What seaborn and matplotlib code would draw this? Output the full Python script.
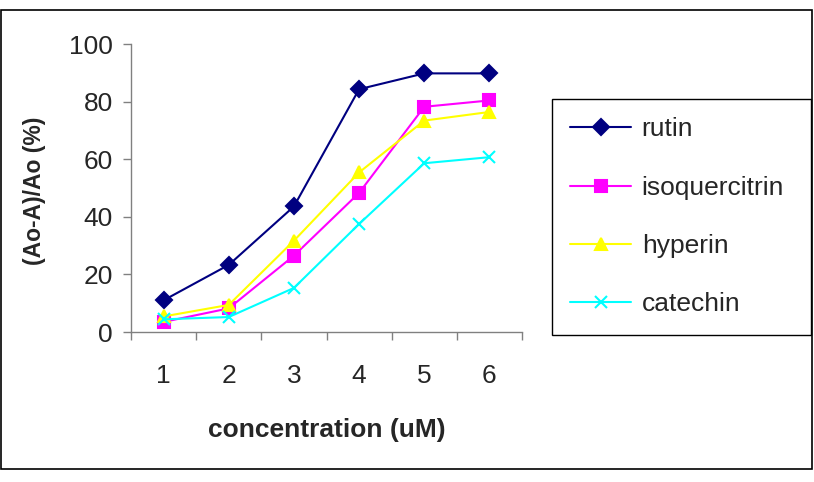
import numpy as np
import pandas as pd
import matplotlib
matplotlib.use('Agg')
import matplotlib.pyplot as plt
from matplotlib.patches import Rectangle
import seaborn as sns

# valeurs
concentration = [1, 2, 3, 4, 5, 6]
rutin = [11.0, 23.3, 43.6, 84.3, 89.8, 89.8]
isoquercitrin = [3.5, 8.2, 26.5, 48.3, 78.2, 80.4]
hyperin = [5.4, 9.4, 31.7, 55.4, 73.4, 76.4]
catechin = [4.4, 5.2, 15.3, 37.5, 58.6, 60.7]

names = ['rutin', 'isoquercitrin', 'hyperin', 'catechin']
series = [rutin, isoquercitrin, hyperin, catechin]
colors = ['#000080', '#FF00FF', '#FFFF00', '#00FFFF']
markers = ['D', 's', '^', 'x']

df = pd.DataFrame({
    'concentration': concentration * 4,
    'value': sum(series, []),
    'compound': np.repeat(names, len(concentration)),
})

sns.set_style('white')
plt.rcParams['font.family'] = ['Liberation Sans', 'DejaVu Sans']
FS = 19

fig = plt.figure(figsize=(8.14, 4.82), dpi=100)
ax = fig.add_axes([131 / 814, 1 - 332 / 482, 391 / 814, 288 / 482])

# une courbe par composé (marqueurs pleins et x ne se mélangent pas dans seaborn)
for name, c, m in zip(names, colors, markers):
    sub = df[df['compound'] == name]
    ms = 9 if m == '^' else 8
    sns.lineplot(data=sub, x='concentration', y='value', color=c, marker=m,
                 markersize=ms, linewidth=1.5, markeredgewidth=1.5,
                 markeredgecolor=c, markerfacecolor=c, ax=ax, label=name,
                 legend=False, clip_on=False)

ax.set_xlim(0.5, 6.5)
ax.set_ylim(0, 100)
ax.set_yticks([0, 20, 40, 60, 80, 100])
ax.set_xticks(concentration)
ax.set_xticks(np.arange(0.5, 7, 1), minor=True)
ax.tick_params(axis='x', which='major', length=0, pad=23, labelsize=FS)
ax.tick_params(axis='x', which='minor', length=6, width=1, color='#808080', direction='out', bottom=True)
ax.tick_params(axis='y', length=6, width=1, color='#808080', direction='out', left=True, labelsize=FS, pad=7)

for s in ['top', 'right']:
    ax.spines[s].set_visible(False)
for s in ['left', 'bottom']:
    ax.spines[s].set_color('#808080')
    ax.spines[s].set_linewidth(1)

ax.set_xlabel('')
ax.set_ylabel('')
fig.text(327 / 814, 1 - 430 / 482, 'concentration (uM)', ha='center', va='center',
         fontsize=FS, fontweight='bold')
fig.text(35 / 814, 1 - 191 / 482, '(Ao-A)/Ao (%)', ha='center', va='center',
         rotation=90, fontsize=16.5, fontweight='bold')

handles = [plt.Line2D([], [], color=c, marker=m, markersize=8, linewidth=1.5,
                      markeredgewidth=1.5, markeredgecolor=c, markerfacecolor=c)
           for c, m in zip(colors, markers)]
leg = fig.legend(handles, names, loc='upper left',
                 bbox_to_anchor=(552 / 814, 1 - 99 / 482 - 0.01, 259 / 814, 0.01),
                 mode='expand', fontsize=FS,
                 frameon=True, fancybox=False, edgecolor='black', framealpha=1,
                 labelspacing=1.3, handlelength=2.3, handletextpad=0.4,
                 borderpad=0.7, borderaxespad=0)
leg.get_frame().set_linewidth(1)

fig.patches.append(Rectangle((1 / 814, 1 - 469 / 482), 811 / 814, 459 / 482,
                             transform=fig.transFigure, fill=False,
                             edgecolor='black', linewidth=1.2))

fig.savefig('out.png', dpi=100)
